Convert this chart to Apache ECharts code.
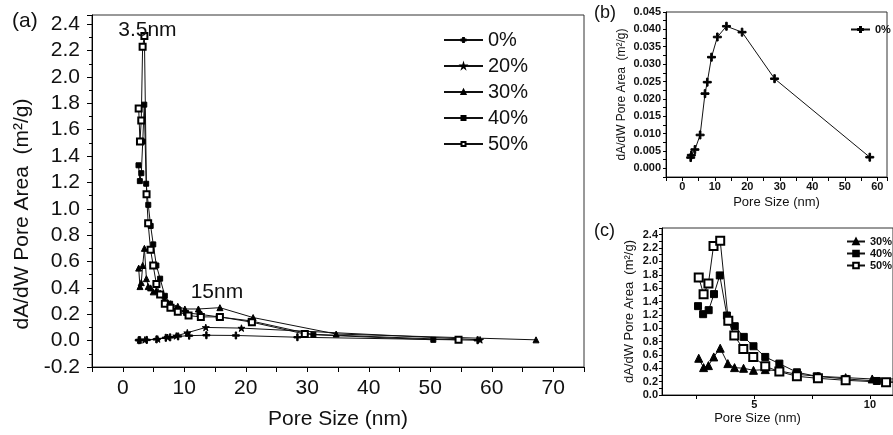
<!DOCTYPE html>
<html><head><meta charset="utf-8">
<script src="https://cdn.jsdelivr.net/npm/echarts@6/dist/echarts.min.js"></script>
<style>html,body{margin:0;padding:0;background:#fff}#c{width:893px;height:435px}</style>
</head><body><div id="c"></div>
<script>
// ---- data (pore size in nm, dA/dW pore area in m2/g) ----
const sizes0  = [2.6, 2.8, 3.9, 5.5, 7.0, 7.7, 9.0, 10.8, 13.6, 18.4, 28.4, 57.7];
const area0   = [0.0031, 0.0038, 0.0054, 0.0096, 0.0215, 0.0248, 0.0320, 0.0378, 0.0409, 0.0392, 0.0258, 0.0032];
const sizes20 = [2.7, 3.6, 5.7, 7.3, 8.7, 10.5, 13.5, 19.3, 58.1];
const area20  = [0.005, 0.006, 0.012, 0.025, 0.036, 0.060, 0.100, 0.095, 0.006];
const sizes30 = [2.59, 2.80, 3.01, 3.24, 3.52, 3.85, 4.14, 4.53, 4.96, 5.47, 6.08, 6.84, 7.75, 8.95, 10.1, 12.3, 15.8, 21.2, 34.7, 67.2];
const area30  = [0.55, 0.41, 0.44, 0.57, 0.70, 0.47, 0.41, 0.40, 0.37, 0.38, 0.36, 0.31, 0.28, 0.26, 0.24, 0.24, 0.25, 0.175, 0.05, 0.006];
const sizes40 = [2.56, 2.78, 3.02, 3.25, 3.50, 3.81, 4.15, 4.54, 4.96, 5.47, 6.08, 6.84, 7.70, 8.95, 10.3, 12.5, 15.6, 20.8, 31.0, 50.5];
const area40  = [1.33, 1.21, 1.27, 1.51, 1.79, 1.19, 1.03, 0.87, 0.73, 0.57, 0.47, 0.34, 0.28, 0.24, 0.21, 0.20, 0.18, 0.15, 0.045, 0.006];
const sizes50 = [2.59, 2.80, 3.01, 3.23, 3.52, 3.87, 4.13, 4.52, 4.95, 5.47, 6.08, 6.84, 7.75, 8.95, 10.7, 12.7, 15.8, 21.0, 29.6, 54.6];
const area50  = [1.76, 1.51, 1.67, 2.23, 2.31, 1.11, 0.89, 0.69, 0.57, 0.43, 0.35, 0.28, 0.25, 0.22, 0.19, 0.18, 0.18, 0.14, 0.05, 0.006];

const seriesNames = ['0%', '20%', '30%', '40%', '50%'];
// tick labels
const xLabelsA = [0, 10, 20, 30, 40, 50, 60, 70];
const yLabelsA = [-0.2, 0.0, 0.2, 0.4, 0.6, 0.8, 1.0, 1.2, 1.4, 1.6, 1.8, 2.0, 2.2, 2.4];
const xLabelsB = [0, 10, 20, 30, 40, 50, 60];
const yLabelsB = [0.000, 0.005, 0.010, 0.015, 0.020, 0.025, 0.030, 0.035, 0.040, 0.045];
const xTicksC  = [2.5, 5, 7.5, 10];
const xLabelsC = [5, 10];
const yLabelsC = [0.0, 0.2, 0.4, 0.6, 0.8, 1.0, 1.2, 1.4, 1.6, 1.8, 2.0, 2.2, 2.4];
// annotations
const peakNote = '3.5nm';
const secondNote = '15nm';

const FONT = "'Liberation Sans', Arial, sans-serif";
const PLUS = 'path://M4,0h2v4h4v2h-4v4h-2v-4h-4v-2h4z';
const STAR = 'path://M50,0L61,35L98,35L68,57L79,91L50,70L21,91L32,57L2,35L39,35Z';
const symbols = { '0%': PLUS, '20%': STAR, '30%': 'triangle', '40%': 'rect', '50%': 'emptyRect' };

function pairs(xs, ys) { return xs.map((x, i) => [x, ys[i]]); }
function inList(list, v, d) { return list.some(t => Math.abs(t - v) < 1e-9) ? v.toFixed(d) : ''; }

function lineSeries(name, xs, ys, gi, size, extra) {
  return Object.assign({
    type: 'line', name, xAxisIndex: gi, yAxisIndex: gi,
    data: pairs(xs, ys), symbol: symbols[name], symbolSize: size, symbolKeepAspect: true,
    showAllSymbol: true, color: '#000',
    itemStyle: { color: '#000', borderColor: '#000', borderWidth: 1 },
    lineStyle: { color: '#111', width: 1 }, animation: false, clip: true, z: 3
  }, extra || {});
}

const dataA50 = pairs(sizes50, area50);
dataA50[4] = { value: dataA50[4], label: { show: true, formatter: peakNote, position: 'top', distance: 0, offset: [3, 9], fontSize: 21, color: '#111', fontFamily: FONT } };
const dataA30 = pairs(sizes30, area30);
dataA30[16] = { value: dataA30[16], label: { show: true, formatter: secondNote, position: 'top', distance: 2, offset: [-3, 1], fontSize: 21, color: '#111', fontFamily: FONT } };

const axisCommon = () => ({
  axisLine: { show: true, onZero: false, lineStyle: { color: '#000', width: 1 } },
  splitLine: { show: false }
});

const chart = echarts.init(document.getElementById('c'), null, { renderer: 'canvas' });
chart.setOption({
  animation: false,
  backgroundColor: '#fff',
  grid: [
    { left: 92, top: 15, width: 492, height: 354, show: true, borderColor: '#333', borderWidth: 1, backgroundColor: 'transparent' },
    { left: 666, top: 12, width: 221, height: 165, show: true, borderColor: '#333', borderWidth: 1, backgroundColor: 'transparent' },
    { left: 662, top: 228, width: 256, height: 167, show: true, borderColor: '#333', borderWidth: 1, backgroundColor: 'transparent' }
  ],
  xAxis: [
    Object.assign(axisCommon(), { type: 'value', gridIndex: 0, min: -5, max: 75, interval: 5,
      axisTick: { show: true, length: 5, lineStyle: { color: '#000' } },
      axisLabel: { color: '#111', fontSize: 21, fontFamily: FONT, margin: 11, formatter: v => inList(xLabelsA, v, 0) },
      name: 'Pore Size (nm)', nameLocation: 'middle', nameGap: 42,
      nameTextStyle: { fontSize: 21, color: '#111', fontFamily: FONT } }),
    Object.assign(axisCommon(), { type: 'value', gridIndex: 1, min: -5, max: 63, interval: 5,
      axisTick: { show: true, length: 4, lineStyle: { color: '#000' } },
      axisLabel: { color: '#111', fontSize: 11, fontWeight: 'bold', fontFamily: FONT, margin: 4, formatter: v => inList(xLabelsB, v, 0) },
      name: 'Pore Size (nm)', nameLocation: 'middle', nameGap: 19,
      nameTextStyle: { fontSize: 13, color: '#111', fontFamily: FONT } }),
    Object.assign(axisCommon(), { type: 'value', gridIndex: 2, min: 1, max: 11,
      axisTick: { show: true, length: 4, customValues: xTicksC, lineStyle: { color: '#000' } },
      axisLabel: { color: '#111', fontSize: 11, fontWeight: 'bold', fontFamily: FONT, margin: 4, customValues: xLabelsC, formatter: v => String(v) },
      name: 'Pore Size (nm)', nameLocation: 'middle', nameGap: 17,
      nameTextStyle: { fontSize: 13, color: '#111', fontFamily: FONT, padding: [0, 40, 0, 0] } })
  ],
  yAxis: [
    Object.assign(axisCommon(), { type: 'value', gridIndex: 0, min: -0.2, max: 2.47, interval: 0.2,
      axisTick: { show: true, length: 5, lineStyle: { color: '#000' } },
      minorTick: { show: true, splitNumber: 2, length: 3, lineStyle: { color: '#000' } },
      axisLabel: { color: '#111', fontSize: 21, fontFamily: FONT, margin: 12, formatter: v => inList(yLabelsA, Math.round(v * 100) / 100, 1) },
      name: 'dA/dW Pore Area  (m\u00B2/g)', nameLocation: 'middle', nameGap: 52, nameRotate: 90,
      nameTextStyle: { fontSize: 21, color: '#111', fontFamily: FONT, padding: [0, 46, 0, 0] } }),
    Object.assign(axisCommon(), { type: 'value', gridIndex: 1, min: -0.0025, max: 0.045, interval: 0.0025,
      axisTick: { show: true, length: 3, lineStyle: { color: '#000' } },
      axisLabel: { color: '#111', fontSize: 11, fontWeight: 'bold', fontFamily: FONT, margin: 5, formatter: v => inList(yLabelsB, Math.round(v * 10000) / 10000, 3) },
      name: 'dA/dW Pore Area  (m\u00B2/g)', nameLocation: 'middle', nameGap: 38, nameRotate: 90,
      nameTextStyle: { fontSize: 12, color: '#111', fontFamily: FONT } }),
    Object.assign(axisCommon(), { type: 'value', gridIndex: 2, min: 0, max: 2.5, interval: 0.1,
      axisTick: { show: true, length: 3, lineStyle: { color: '#000' } },
      axisLabel: { color: '#111', fontSize: 11, fontWeight: 'bold', fontFamily: FONT, margin: 4, formatter: v => inList(yLabelsC, Math.round(v * 10) / 10, 1) },
      name: 'dA/dW Pore Area  (m\u00B2/g)', nameLocation: 'middle', nameGap: 26, nameRotate: 90,
      nameTextStyle: { fontSize: 13, color: '#111', fontFamily: FONT } })
  ],
  legend: [
    { orient: 'vertical', left: 438, top: 25, itemWidth: 39, itemHeight: 5, itemGap: 6,
      data: seriesNames, selectedMode: false,
      textStyle: { fontSize: 20, lineHeight: 19, color: '#111', fontFamily: FONT } },
    { orient: 'vertical', left: 845, top: 19, itemWidth: 19, itemHeight: 6, itemGap: 2,
      data: ['0%'], selectedMode: false,
      textStyle: { fontSize: 11, fontWeight: 'bold', color: '#111', fontFamily: FONT } },
    { orient: 'vertical', left: 841, top: 231, itemWidth: 18, itemHeight: 7, itemGap: 1,
      data: ['30%', '40%', '50%'], selectedMode: false,
      textStyle: { fontSize: 11, lineHeight: 11, fontWeight: 'bold', color: '#111', fontFamily: FONT } }
  ],
  graphic: [
    { type: 'text', left: 12, top: 11, style: { text: '(a)', fontSize: 21, fill: '#111', fontFamily: FONT } },
    { type: 'text', left: 594, top: 4, style: { text: '(b)', fontSize: 18, fill: '#111', fontFamily: FONT } },
    { type: 'text', left: 594, top: 222, style: { text: '(c)', fontSize: 18, fill: '#111', fontFamily: FONT } }
  ],
  series: [
    lineSeries('0%', sizes0, area0, 0, 7),
    lineSeries('20%', sizes20, area20, 0, 7),
    lineSeries('30%', sizes30, area30, 0, 6, { data: dataA30 }),
    lineSeries('40%', sizes40, area40, 0, 5),
    lineSeries('50%', sizes50, area50, 0, 6, { data: dataA50 }),
    lineSeries('0%', sizes0, area0, 1, 8),
    lineSeries('30%', sizes30, area30, 2, 8),
    lineSeries('40%', sizes40, area40, 2, 7),
    lineSeries('50%', sizes50, area50, 2, 8)
  ]
});
</script></body></html>
